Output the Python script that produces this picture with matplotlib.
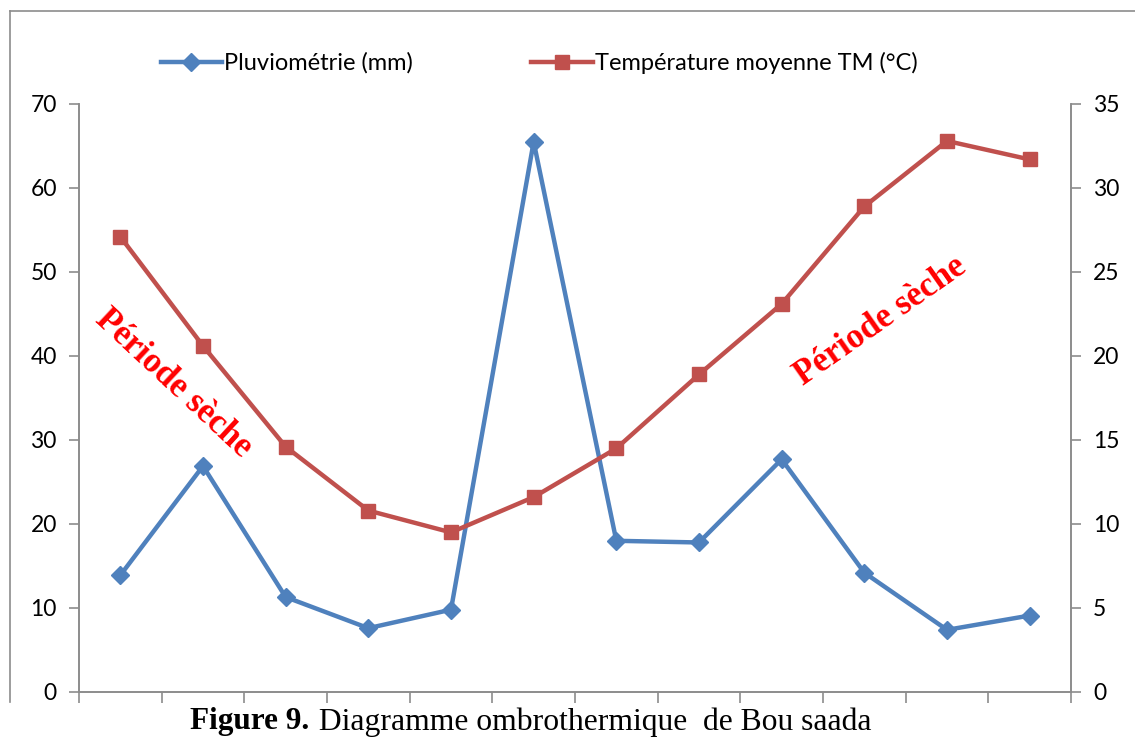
import matplotlib.pyplot as plt
from matplotlib.lines import Line2D
import numpy as np

plt.rcParams['font.family'] = ['Lato', 'DejaVu Sans']

# Données : 12 mois (Bou Saada)
mois = np.arange(1, 13)
pluie = [13.9, 26.9, 11.3, 7.6, 9.8, 65.5, 18.0, 17.8, 27.7, 14.2, 7.4, 9.1]
temp = [27.1, 20.6, 14.6, 10.8, 9.5, 11.6, 14.5, 18.9, 23.1, 28.9, 32.8, 31.7]

bleu = '#4F81BD'
rouge = '#C0504D'
gris = '#8C8C8C'

fig = plt.figure(figsize=(11.35, 7.49), dpi=100)
ax = fig.add_axes([79 / 1135, 1 - 692 / 749, (1071 - 79) / 1135, (692 - 104) / 749])
ax2 = ax.twinx()

l1, = ax.plot(mois, pluie, color=bleu, lw=3.2, marker='D', ms=9,
              label='Pluviométrie (mm)')
l2, = ax2.plot(mois, temp, color=rouge, lw=3.2, marker='s', ms=10,
               label='Température moyenne TM (°C)')

ax.set_xlim(0.5, 12.5)
ax.set_ylim(0, 70)
ax2.set_ylim(0, 35)
ax.set_yticks(range(0, 71, 10))
ax2.set_yticks(range(0, 36, 5))
ax.set_xticks(np.arange(0.5, 12.6, 1))
ax.set_xticklabels([])

for a in (ax, ax2):
    for s in a.spines.values():
        s.set_color(gris)
        s.set_linewidth(1.2)
    a.spines['top'].set_visible(False)
    a.tick_params(colors=gris, labelcolor='black', labelsize=16.5, length=7,
                  width=1.2, pad=9)
ax.tick_params(axis='x', length=8)

# Texte "Période sèche"
ax.text(0.095, 0.525, 'Période sèche', transform=ax.transAxes,
        rotation=-43, color='red', fontsize=25, fontweight='bold',
        family='Liberation Serif', ha='center', va='center')
ax.text(0.808, 0.63, 'Période sèche', transform=ax.transAxes,
        rotation=35, color='red', fontsize=25, fontweight='bold',
        family='Liberation Serif', ha='center', va='center')

fig.legend(handles=[l1, l2], loc='center', bbox_to_anchor=(0.475, 1 - 63 / 749),
           ncol=2, frameon=False, fontsize=17, handlelength=2.6,
           handletextpad=0.1, columnspacing=5.0)

# Cadre
fig.add_artist(Line2D([10 / 1135, 1], [1 - 11 / 749, 1 - 11 / 749],
                      color=gris, lw=1.2))
fig.add_artist(Line2D([10 / 1135, 10 / 1135], [1 - 11 / 749, 1 - 702 / 749],
                      color=gris, lw=1.2))

# Légende de la figure
fig.text(190 / 1135, 1 - 722 / 749, 'Figure 9.', family='Liberation Serif',
         fontweight='bold', fontsize=22.5, ha='left', va='center')
fig.text(311 / 1135, 1 - 722 / 749, ' Diagramme ombrothermique  de Bou saada',
         family='Liberation Serif', fontsize=22.8, ha='left', va='center')

fig.savefig('out.png', dpi=100)
